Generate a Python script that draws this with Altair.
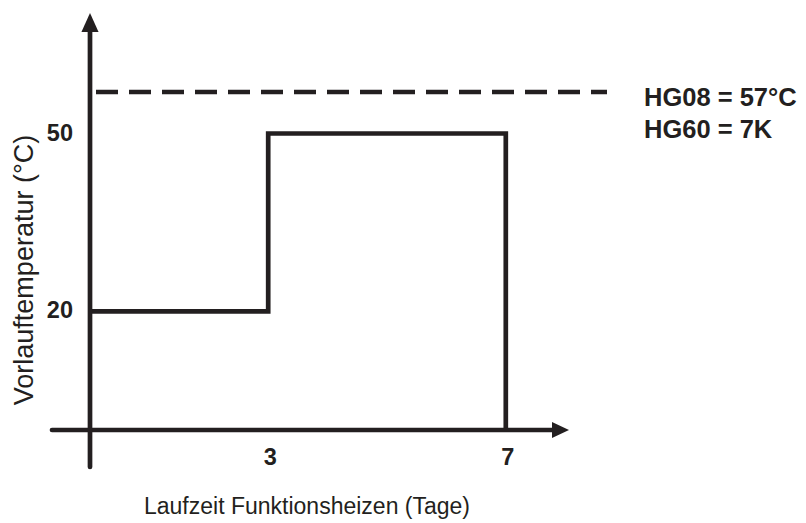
import altair as alt
import pandas as pd

# ---- data ----
step_days = [0, 3, 3, 7, 7]
step_temp = [20, 20, 50, 50, 0]
x_ticks = [3, 7]
y_ticks = [20, 50]
hg08_temp = 57
annotation = ["HG08 = 57°C", "HG60 = 7K"]
x_title = "Laufzeit Funktionsheizen (Tage)"
y_title = "Vorlauftemperatur (°C)"

INK = "#231f20"
FONT = "Liberation Sans"

W, H = 790, 515
# pixel anchors (page coords) -> scale domains
X0_PAGE, KX = 90, 59.4   # day 0 at x=90, px per day
Y0_PAGE, KY = 430, 5.93  # temp 0 at y=430, px per degree
xmin = -(X0_PAGE - 8) / KX
xmax = xmin + W / KX
ymax = (Y0_PAGE - 8) / KY
ymin = ymax - H / KY

def dx(px):
    return (px - X0_PAGE) / KX

def dy(py):
    return (Y0_PAGE - py) / KY

xs = alt.Scale(domain=[xmin, xmax], nice=False, zero=False)
ys = alt.Scale(domain=[ymin, ymax], nice=False, zero=False)

def X(field="x"):
    return alt.X(f"{field}:Q", scale=xs, axis=None)

def Y(field="y"):
    return alt.Y(f"{field}:Q", scale=ys, axis=None)

# step profile
step_df = pd.DataFrame({"x": step_days, "y": step_temp, "o": range(len(step_days))})
step = alt.Chart(step_df).mark_line(color=INK, strokeWidth=4.7, strokeJoin="miter").encode(
    x=X(), y=Y(), order="o:Q")

# dashed HG08 line
dash_df = pd.DataFrame({"x": [dx(96)], "x2": [dx(607)], "y": [hg08_temp]})
dash = alt.Chart(dash_df).mark_rule(color=INK, strokeWidth=4.7, strokeDash=[22, 11]).encode(
    x=X(), x2="x2:Q", y=Y())

# axes shafts
xaxis_df = pd.DataFrame({"x": [dx(52)], "x2": [dx(555)], "y": [0]})
xaxis = alt.Chart(xaxis_df).mark_rule(color=INK, strokeWidth=4.7, strokeCap="round").encode(
    x=X(), x2="x2:Q", y=Y())
yaxis_df = pd.DataFrame({"x": [0], "y": [dy(467)], "y2": [dy(30)]})
yaxis = alt.Chart(yaxis_df).mark_rule(color=INK, strokeWidth=4.7, strokeCap="round").encode(
    x=X(), y=Y(), y2="y2:Q")

# arrow heads
xhead = alt.Chart(pd.DataFrame({"x": [dx(560.5)], "y": [0]})).mark_point(
    shape="M1,0L-1,-0.95L-1,0.95Z", size=289, filled=True, color=INK, opacity=1, strokeWidth=0
).encode(x=X(), y=Y())
yhead = alt.Chart(pd.DataFrame({"x": [0], "y": [dy(22.5)]})).mark_point(
    shape="M0,-1L0.9,1L-0.9,1Z", size=361, filled=True, color=INK, opacity=1, strokeWidth=0
).encode(x=X(), y=Y())

# tick labels
xt_df = pd.DataFrame({"x": x_ticks, "y": [0] * len(x_ticks), "t": [str(v) for v in x_ticks]})
xt = alt.Chart(xt_df).mark_text(font=FONT, fontSize=23.5, fontWeight="bold", color=INK,
                                 align="center", baseline="middle", dy=28, dx=2).encode(
    x=X(), y=Y(), text="t:N")
yt_df = pd.DataFrame({"x": [0] * len(y_ticks), "y": y_ticks, "t": [str(v) for v in y_ticks]})
yt = alt.Chart(yt_df).mark_text(font=FONT, fontSize=23.5, fontWeight="bold", color=INK,
                                 align="right", baseline="middle", dx=-17).encode(
    x=X(), y=Y(), text="t:N")

# axis titles
xtitle = alt.Chart(pd.DataFrame({"x": [dx(307)], "y": [dy(514)], "t": [x_title]})).mark_text(
    font=FONT, fontSize=23, color=INK, align="center", baseline="alphabetic").encode(
    x=X(), y=Y(), text="t:N")
ytitle = alt.Chart(pd.DataFrame({"x": [dx(33)], "y": [dy(270)], "t": [y_title]})).mark_text(
    font=FONT, fontSize=27, color=INK, align="center", baseline="alphabetic", angle=270).encode(
    x=X(), y=Y(), text="t:N")

# annotation
ann_df = pd.DataFrame({"x": [dx(644)] * 2, "y": [dy(105.7), dy(137.7)], "t": annotation})
ann = alt.Chart(ann_df).mark_text(font=FONT, fontSize=25.5, fontWeight="bold", color=INK,
                                  align="left", baseline="alphabetic").encode(
    x=X(), y=Y(), text="t:N")

chart = alt.layer(dash, step, xaxis, yaxis, xhead, yhead, xt, yt, xtitle, ytitle, ann).properties(
    width=W, height=H, padding=0, autosize="none", background="white"
).configure_view(stroke=None)

chart.save("out.html", embed_options={"renderer": "svg", "actions": False})
